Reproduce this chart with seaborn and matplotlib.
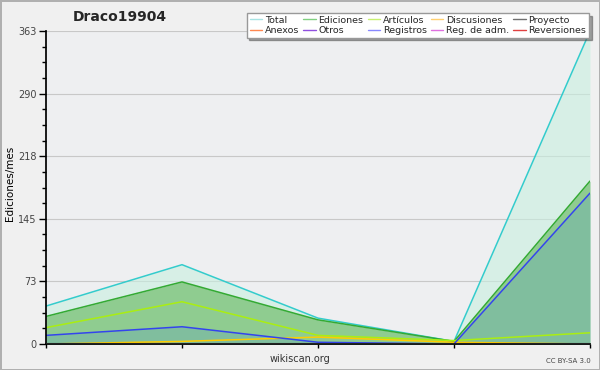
import matplotlib.pyplot as plt
import seaborn as sns
import numpy as np
import pandas as pd
from matplotlib.lines import Line2D
from matplotlib.ticker import FixedLocator, MultipleLocator

plt.switch_backend('Agg')

# monthly points
months = [0, 1, 2, 3, 4]
total = [44, 92, 30, 3, 363]
ediciones = [32, 72, 28, 3, 189]
articulos = [19, 49, 10, 4, 13]
registros = [10, 20, 2, 0, 175]
discusiones = [0, 3, 8, 2, 0]

legend_names = ["Total", "Anexos", "Ediciones", "Otros", "Artículos", "Registros",
                "Discusiones", "Reg. de adm.", "Proyecto", "Reversiones"]
legend_colors = ["#a8e4e4", "#ff8850", "#80d080", "#9050e0", "#c8f070", "#8888ff",
                 "#ffd070", "#e070e0", "#707070", "#e04040"]

y_ticks = [0, 72.6, 145.2, 217.8, 290.4, 363]
y_labels = ["0", "73", "145", "218", "290", "363"]

df = pd.DataFrame({"mes": months, "Total": total, "Ediciones": ediciones,
                   "Artículos": articulos, "Registros": registros,
                   "Discusiones": discusiones})

sns.set_theme(style="white", rc={"axes.facecolor": "#eeeff1", "figure.facecolor": "#f0f0f0"})
plt.rcParams['font.family'] = ['DejaVu Sans']

fig = plt.figure(figsize=(6, 3.7), dpi=100)
fig.patch.set_edgecolor("#b0b0b0")
fig.patch.set_linewidth(2)
ax = fig.add_axes([0.0767, 0.0703, 0.9066, 0.8457])

# fills
ax.fill_between(df["mes"], df["Total"], color="#c8f0e0", alpha=0.6, lw=0)
ax.fill_between(df["mes"], df["Ediciones"], color="#8fcc90", lw=0)
ax.fill_between(df["mes"], df["Registros"], color="#60a0c0", alpha=0.3, lw=0)

line_specs = [("Total", "#33cccc"), ("Ediciones", "#33aa33"), ("Artículos", "#aaee11"),
              ("Discusiones", "#ffcc00"), ("Registros", "#3344ee")]
for col, c in line_specs:
    sns.lineplot(data=df, x="mes", y=col, color=c, lw=1.1, ax=ax)

ax.axhline(0, color="#222222", lw=1.5, zorder=5)

ax.set_xlim(0, 4)
ax.set_ylim(0, 363)
ax.set_xticks(months)
ax.set_xticklabels([])
ax.yaxis.set_major_locator(FixedLocator(y_ticks))
ax.set_yticklabels(y_labels, fontsize=7, color="#444444")
ax.yaxis.set_minor_locator(MultipleLocator(18.15))
ax.tick_params(axis="y", which="major", left=True, length=5, width=1, color="black", pad=2)
ax.tick_params(axis="y", which="minor", left=True, length=3, width=1, color="black")
ax.tick_params(axis="x", which="major", bottom=True, length=3, width=1, color="black")
ax.yaxis.grid(True, color="#c8c8c8", lw=0.8)
ax.set_axisbelow(True)
for s in ["top", "right"]:
    ax.spines[s].set_visible(False)
ax.spines["left"].set_color("black")
ax.spines["bottom"].set_color("black")

ax.set_xlabel("")
ax.set_ylabel("")
fig.text(0.5, 0.03, "wikiscan.org", fontsize=7, color="#333333", ha="center", va="center")
fig.text(0.017, 0.505, "Ediciones/mes", fontsize=7.5, color="black", rotation=90,
         ha="center", va="center")
fig.text(0.2, 0.955, "Draco19904", fontsize=10, fontweight="bold", ha="center", va="center")
fig.text(0.985, 0.025, "CC BY-SA 3.0", fontsize=5, color="#444444", ha="right", va="center")

handles = [Line2D([0], [0], color=c, lw=1) for c in legend_colors]
leg = fig.legend(handles, legend_names, ncol=5, loc="upper right",
                 bbox_to_anchor=(0.99, 0.978), fontsize=6.8, frameon=True, fancybox=False,
                 shadow=True, handlelength=1.3, handletextpad=0.3, columnspacing=0.45,
                 labelspacing=0.12, borderpad=0.3)
leg.get_frame().set_edgecolor("#999999")
leg.get_frame().set_facecolor("white")

plt.savefig("out.png", dpi=100)
plt.close()
